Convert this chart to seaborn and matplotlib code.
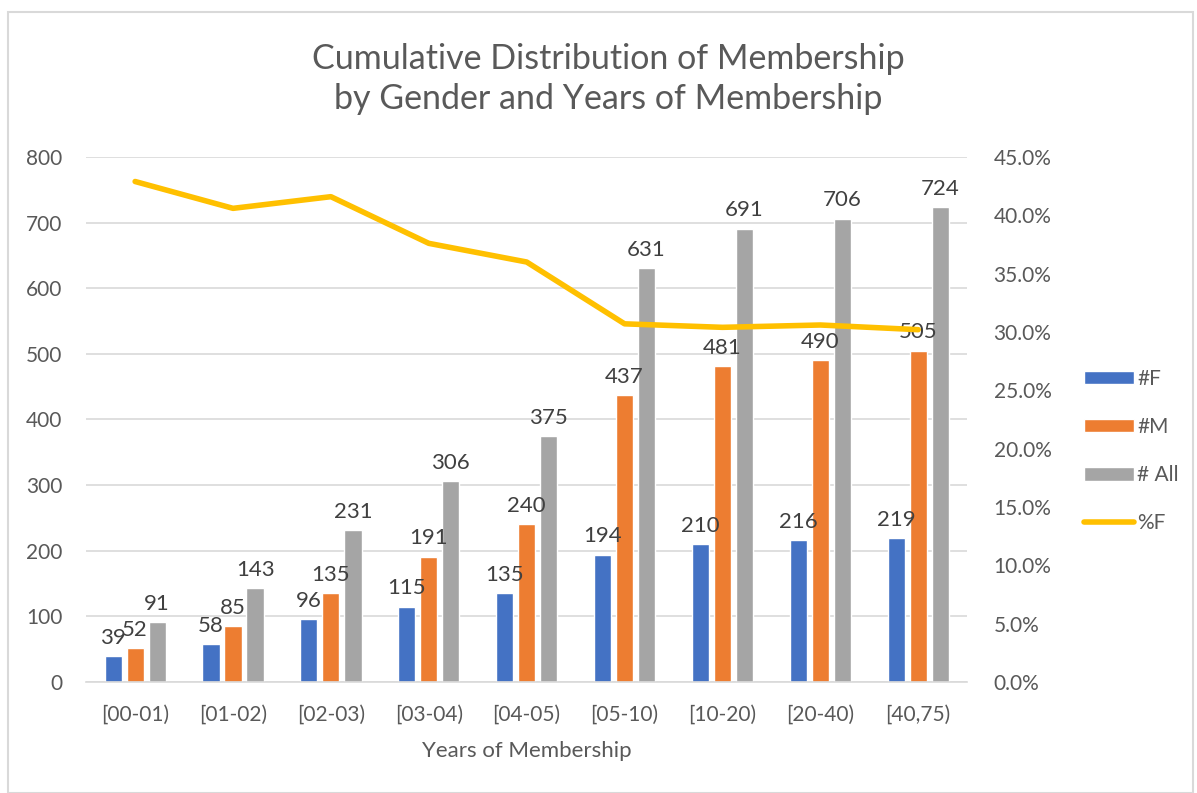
import numpy as np
import pandas as pd
import seaborn as sns
import matplotlib.pyplot as plt
from matplotlib.patches import Rectangle
from matplotlib.ticker import PercentFormatter

categories = ['[00-01)', '[01-02)', '[02-03)', '[03-04)', '[04-05)',
              '[05-10)', '[10-20)', '[20-40)', '[40,75)']
n_female = [39, 58, 96, 115, 135, 194, 210, 216, 219]
n_male = [52, 85, 135, 191, 240, 437, 481, 490, 505]
n_all = [91, 143, 231, 306, 375, 631, 691, 706, 724]
pct_female = [42.9, 40.6, 41.6, 37.6, 36.0, 30.7, 30.4, 30.6, 30.2]

series_names = ['#F', '#M', '# All']
colors = ['#4472C4', '#ED7D31', '#A5A5A5']
text_grey = '#595959'

sns.set_style('white')
plt.rcParams['font.family'] = ['Lato', 'DejaVu Sans']

# long format for seaborn hue bars
bars = pd.DataFrame({
    'years': categories * 3,
    'count': n_female + n_male + n_all,
    'series': np.repeat(series_names, len(categories)),
})

fig = plt.figure(figsize=(11.97, 7.93), dpi=100)
ax = fig.add_axes([0.072, 0.140, 0.736, 0.662])

sns.barplot(data=bars, x='years', y='count', hue='series', order=categories,
            hue_order=series_names, palette=colors, width=0.675, gap=0.22,
            saturation=1, ax=ax)

for cont in ax.containers:
    ax.bar_label(cont, padding=6, fontsize=16, color='#404040')

ax.set_ylim(0, 800)
ax.set_yticks(range(0, 801, 100))
ax.set_xlim(-0.5, len(categories) - 0.5)
ax.grid(axis='y', color='#D9D9D9', linewidth=1.2)
ax.set_axisbelow(True)
sns.despine(ax=ax, left=True, right=True, top=True)
ax.spines['bottom'].set_color('#D9D9D9')
ax.spines['bottom'].set_linewidth(1.2)
ax.tick_params(axis='y', length=0, labelsize=15, labelcolor=text_grey, pad=17)
ax.tick_params(axis='x', length=0, labelsize=15, labelcolor=text_grey, pad=16)
ax.set_xlabel('Years of Membership', fontsize=16, color=text_grey, labelpad=12)
ax.set_ylabel('')

ax2 = ax.twinx()
line_df = pd.DataFrame({'pos': np.arange(len(categories)), 'pct': pct_female})
sns.lineplot(data=line_df, x='pos', y='pct', color='#FFC000', linewidth=4,
             label='%F', ax=ax2)
ax2.set_ylim(0, 45)
ax2.set_yticks(np.arange(0, 46, 5))
ax2.yaxis.set_major_formatter(PercentFormatter(decimals=1))
ax2.tick_params(axis='y', length=0, labelsize=15, labelcolor=text_grey, pad=19)
ax2.set_ylabel('')
for s in ax2.spines.values():
    s.set_visible(False)

handles, labels = ax.get_legend_handles_labels()
h2, l2 = ax2.get_legend_handles_labels()
ax.get_legend().remove()
ax2.get_legend().remove()
fig.legend(handles + h2, labels + l2, loc='center left',
           bbox_to_anchor=(0.89, 0.431), frameon=False, fontsize=15,
           handlelength=2.4, handleheight=0.6, labelspacing=1.35,
           handletextpad=0.15, labelcolor=text_grey)

fig.text(0.508, 0.9, 'Cumulative Distribution of Membership\nby Gender and Years of Membership',
         ha='center', va='center', fontsize=24.5, color=text_grey, linespacing=1.3)

# chart-area border
fig.patches.append(Rectangle((0.007, 0.0), 0.99, 0.985, transform=fig.transFigure,
                             fill=False, edgecolor='#D9D9D9', linewidth=1.5))

fig.savefig('out.png', dpi=100)
